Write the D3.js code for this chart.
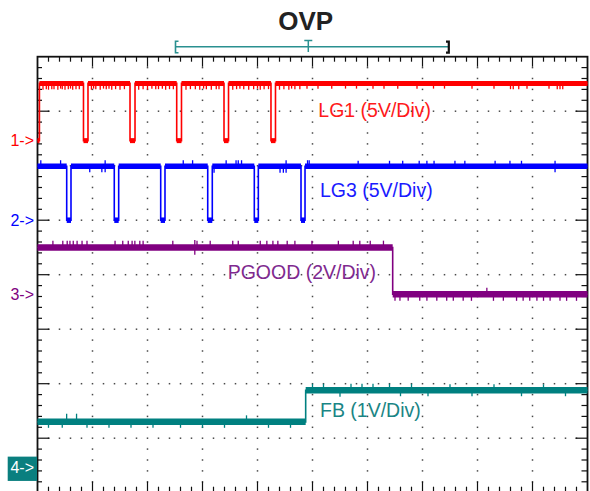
<!DOCTYPE html>
<html>
<head>
<meta charset="utf-8">
<script src="https://cdn.jsdelivr.net/npm/d3@7/dist/d3.min.js"></script>
<style>
  html, body { margin: 0; padding: 0; background: #fff; }
  svg { display: block; }
</style>
</head>
<body>
<svg id="chart" width="590" height="491"></svg>
<script>
// ---- Scope capture data (time in divisions, voltages in volts) ----
const title = "OVP";
const channelNames = ["LG1", "LG3", "PGOOD", "FB"];
const channelLabels = ["LG1 (5V/Div)", "LG3 (5V/Div)", "PGOOD (2V/Div)", "FB (1V/Div)"];
const channelMarkers = ["1->", "2->", "3->", "4->"];
const voltsPerDiv = [5, 5, 2, 1];
const groundDiv = [6.46, 5.0, 3.64, 0.46];   // ground reference, divisions from bottom

// LG1 gate: starts low, rises, then short low pulses
const lg1High = 5.25;
const lg1Start = 0.035;
const lg1Fall = [0.836, 1.682, 2.531, 3.391, 4.245];
const lg1Rise = [0.918, 1.773, 2.618, 3.473, 4.327];

// LG3 gate: high with interleaved low pulses
const lg3High = 4.95;
const lg3Fall = [0.531, 1.396, 2.240, 3.095, 3.942, 4.791];
const lg3Rise = [0.609, 1.476, 2.318, 3.178, 4.015, 4.864];

// PGOOD drops once OVP is flagged
const pgoodHigh = 1.72;
const pgoodLow = 0.0;
const pgoodFall = 6.458;

// FB steps up past the OVP threshold
const fbLow = 0.84;
const fbHigh = 1.42;
const fbRise = 4.876;

// Switching glitches on each trace: [time (div), offset (V)]
const lg1Glitch = [[0.1,-0.35],[0.16,-0.3],[0.2,-0.35],[0.26,-0.3],[0.3,-0.3],[0.37,-0.35],[0.42,-0.25],[0.45,-0.3],[0.5,-0.35],[0.56,-0.3],[0.6,-0.25],[0.64,-0.35],[0.7,-0.3],[0.76,-0.3],
  [0.98,-0.35],[1.02,-0.25],[1.06,-0.3],[1.14,-0.35],[1.2,-0.25],[1.25,-0.3],[1.3,-0.25],[1.35,-0.35],[1.42,-0.3],[1.5,-0.35],[1.58,-0.3],
  [1.84,-0.35],[1.92,-0.3],[2.0,-0.35],[2.08,-0.25],[2.15,-0.3],[2.2,-0.3],[2.27,-0.25],[2.33,-0.35],[2.4,-0.3],[2.47,-0.3],
  [2.7,-0.35],[2.78,-0.3],[2.87,-0.3],[2.95,-0.35],[3.02,-0.25],[3.07,-0.3],[3.16,-0.35],[3.25,-0.3],[3.3,-0.3],
  [3.55,-0.35],[3.62,-0.3],[3.68,-0.25],[3.75,-0.3],[3.84,-0.35],[3.93,-0.3],[4.0,-0.25],[4.05,-0.35],[4.12,-0.3],[4.2,-0.3],
  [4.4,-0.35],[4.48,-0.3],[4.57,-0.35],[4.62,-0.25],[4.68,-0.3],[4.77,-0.3],[4.9,-0.25],[5.1,-0.25],[5.35,-0.25],
  [5.6,-0.25],[5.8,-0.25],[6.1,-0.25],[6.3,-0.25],[6.55,-0.25],[6.9,-0.25],[7.2,-0.25],[7.4,-0.25],
  [7.9,-0.25],[8.3,-0.25],[8.6,-0.3],[8.65,-0.3],[8.75,-0.3],[8.9,-0.25],[9.3,-0.25],[9.45,-0.3],[9.5,-0.3],[9.55,-0.3]];
const lg3Glitch = [[0.06,0.3],[0.42,0.3],[0.95,-0.3],[1.17,-0.3],[1.23,-0.3],[1.23,0.3],[2.65,0.3],[2.82,0.3],
  [3.21,-0.35],[3.43,0.3],[3.61,0.3],[3.65,0.3],[3.71,0.3],[4.41,-0.35],[4.47,-0.35],[4.52,-0.35],[4.52,0.3],
  [4.91,0.3],[4.94,0.3],[5.83,0.25],[6.4,0.25],[6.64,0.25],[6.94,0.25],[7.08,0.25],[7.21,0.25],[7.59,0.25],
  [7.77,0.25],[8.32,0.25],[8.59,0.25],[8.8,0.25],[9.41,-0.3],[9.41,0.25]];
const pgoodGlitch = [[0.28,0.13],[0.46,0.13],[0.54,0.13],[0.59,0.13],[0.65,0.13],[0.72,0.13],[0.81,0.13],[0.9,0.13],
  [1.41,0.13],[1.55,0.13],[1.65,0.13],[1.72,0.13],[1.77,0.13],[1.86,0.13],[1.92,0.13],[2.46,0.13],[2.86,0.15],
  [2.86,-0.15],[2.9,0.13],[3.14,0.13],[3.55,0.13],[3.65,0.13],[4.05,0.13],[4.17,0.13],[4.28,0.13],[4.37,0.13],
  [4.54,0.13],[4.68,0.13],[4.99,0.13],[5.47,0.13],[5.74,0.13],[5.86,0.13],[6.05,0.13],[6.29,0.13],
  [6.5,-0.12],[6.59,-0.12],[6.74,-0.12],[6.95,-0.12],[7.08,-0.12],[7.26,-0.12],[7.44,-0.12],[7.56,-0.12],
  [7.74,-0.12],[7.89,-0.12],[8.17,0.12],[8.29,-0.12],[8.47,-0.12],[8.71,-0.12],[8.83,-0.12],[8.95,-0.12],
  [9.08,-0.12],[9.2,-0.12],[9.32,-0.12],[9.5,-0.12],[9.62,-0.12],[9.8,-0.12]];
const fbGlitch = [[0.53,0.09],[0.71,0.09],[0.2,-0.05],[0.45,-0.05],[0.9,-0.05],[1.3,-0.05],[1.7,-0.05],[2.1,-0.05],
  [2.6,-0.05],[3.0,-0.05],[3.4,-0.05],[3.8,0.06],[4.2,-0.05],[4.6,-0.05],
  [5.0,0.06],[5.2,0.06],[5.5,-0.06],[5.7,0.06],[5.9,0.06],[6.1,0.06],[6.4,0.06],[6.6,-0.05],[6.8,0.06],
  [7.1,-0.05],[7.5,0.05],[7.9,-0.05],[8.3,0.05],[8.8,-0.05],[9.2,0.05],[9.6,-0.05]];

// ---- Layout ----
const svg = d3.select("#chart");
const x = d3.scaleLinear().domain([0, 10]).range([37.5, 587.5]);
const y = d3.scaleLinear().domain([0, 8]).range([492.7, 56.7]);
const colors = ["#ff0000", "#0000ff", "#800080", "#008080"];
const labelColors = ["#ff1a1a", "#1a1aff", "#7f2a8f", "#1a8585"];
const bandWidth = [5, 5.5, 6.5, 6.5];
const font = "'Liberation Sans', Arial, sans-serif";

const chY = (c, v) => y(groundDiv[c] + v / voltsPerDiv[c]);

// ---- Graticule dots ----
const grid = svg.append("g").attr("fill", "#4a4a4a");
const dots = [];
for (let j = 1; j < 8; j++) for (let i = 1; i < 50; i++) dots.push([i * 0.2, j]);
for (let i = 1; i < 10; i++) for (let k = 1; k < 40; k++) if (k % 5) dots.push([i, k * 0.2]);
grid.selectAll("rect").data(dots).join("rect")
  .attr("x", d => x(d[0]) - 0.75).attr("y", d => y(d[1]) - 0.75)
  .attr("width", 1.5).attr("height", 1.5);

// ---- Frame and ticks ----
const frame = svg.append("g").attr("stroke", "#111").attr("fill", "none");
frame.append("rect").attr("x", x(0)).attr("y", y(8)).attr("width", x(10) - x(0)).attr("height", y(0) - y(8))
  .attr("stroke-width", 1.8);
const xt = d3.range(1, 50).map(i => i * 0.2);
const yt = d3.range(1, 40).map(i => i * 0.2);
const isMajor = v => Math.abs(v - Math.round(v)) < 1e-6;
frame.selectAll(".tt").data(xt).join("line").attr("class", "tt")
  .attr("x1", d => x(d)).attr("x2", d => x(d)).attr("y1", y(8)).attr("y2", d => y(8) + (isMajor(d) ? 10 : 5)).attr("stroke-width", 1.2);
frame.selectAll(".tb").data(xt).join("line").attr("class", "tb")
  .attr("x1", d => x(d)).attr("x2", d => x(d)).attr("y1", y(0)).attr("y2", d => y(0) - (isMajor(d) ? 11 : 6)).attr("stroke-width", 1.2);
frame.selectAll(".tl").data(yt).join("line").attr("class", "tl")
  .attr("y1", d => y(d)).attr("y2", d => y(d)).attr("x1", x(0)).attr("x2", d => x(0) + (isMajor(d) ? 12 : 4.5)).attr("stroke-width", 1.2);
frame.selectAll(".tr").data(yt).join("line").attr("class", "tr")
  .attr("y1", d => y(d)).attr("y2", d => y(d)).attr("x1", x(10)).attr("x2", d => x(10) - (isMajor(d) ? 12 : 6)).attr("stroke-width", 1.2);

// ---- Waveforms built from edge times ----
function pulses(high, low, falls, rises, start) {
  const pts = [];
  if (start != null) { pts.push([0, low], [start, low], [start, high]); } else { pts.push([0, high]); }
  falls.forEach((f, i) => { pts.push([f, high], [f, low], [rises[i], low], [rises[i], high]); });
  pts.push([10, high]);
  return pts;
}
const waves = [
  pulses(lg1High, 0, lg1Fall, lg1Rise, lg1Start),
  pulses(lg3High, 0, lg3Fall, lg3Rise, null),
  [[0, pgoodHigh], [pgoodFall, pgoodHigh], [pgoodFall, pgoodLow], [10, pgoodLow]],
  [[0, fbLow], [fbRise, fbLow], [fbRise, fbHigh], [10, fbHigh]]
];
const glitches = [lg1Glitch, lg3Glitch, pgoodGlitch, fbGlitch];

waves.forEach((pts, c) => {
  const g = svg.append("g").attr("class", "trace-" + channelNames[c]);
  const line = d3.line().x(d => x(d[0])).y(d => chY(c, d[1]));
  // thin trace through every edge
  g.append("path").datum(pts).attr("d", line)
    .attr("fill", "none").attr("stroke", colors[c]).attr("stroke-width", 1.6).attr("stroke-linejoin", "miter");
  // thick band on each flat segment (sample jitter)
  const flats = [];
  for (let i = 0; i < pts.length - 1; i++) {
    if (pts[i][1] === pts[i + 1][1] && pts[i + 1][0] > pts[i][0]) flats.push([pts[i], pts[i + 1]]);
  }
  g.selectAll(".band").data(flats).join("line").attr("class", "band")
    .attr("x1", d => x(d[0][0])).attr("x2", d => x(d[1][0]))
    .attr("y1", d => chY(c, d[0][1])).attr("y2", d => chY(c, d[0][1]))
    .attr("stroke", colors[c]).attr("stroke-width", bandWidth[c]);
  // glitch spikes relative to the level present at that instant
  const levelAt = t => { let v = pts[0][1]; for (const p of pts) { if (p[0] <= t) v = p[1]; } return v; };
  g.selectAll(".glitch").data(glitches[c]).join("line").attr("class", "glitch")
    .attr("x1", d => x(d[0])).attr("x2", d => x(d[0]))
    .attr("y1", d => chY(c, levelAt(d[0])))
    .attr("y2", d => chY(c, levelAt(d[0]) + d[1]) + (d[1] < 0 ? bandWidth[c] / 2 : -bandWidth[c] / 2))
    .attr("stroke", colors[c]).attr("stroke-width", 1.3);
});

// ---- Channel labels ----
const labelPos = [[318.3, 116.5], [320, 196.8], [227.7, 279], [320, 417.3]];
svg.selectAll(".chlabel").data(channelLabels).join("text").attr("class", "chlabel")
  .attr("x", (d, i) => labelPos[i][0]).attr("y", (d, i) => labelPos[i][1])
  .attr("fill", (d, i) => labelColors[i])
  .style("font-family", font).style("font-size", "19.5px")
  .text(d => d);

// ---- Ground markers ----
svg.append("rect").attr("x", 7.7).attr("y", chY(3, 0) - 11).attr("width", 29.3).attr("height", 24.3).attr("fill", "#0a7f7f");
svg.selectAll(".marker").data(channelMarkers).join("text").attr("class", "marker")
  .attr("x", 34).attr("y", (d, i) => chY(i, 0) + 5.8)
  .attr("text-anchor", "end")
  .attr("fill", (d, i) => i === 3 ? "#ffffff" : colors[i])
  .style("font-family", font).style("font-size", "16px")
  .text(d => d);

// ---- Title ----
svg.append("text").attr("x", 305.7).attr("y", 30).attr("text-anchor", "middle")
  .attr("fill", "#222").style("font-family", font).style("font-size", "26px").style("font-weight", "bold")
  .text(title);

// ---- Horizontal cursor bar ----
const cur = svg.append("g").attr("fill", "none");
const cy = 46.7;
cur.append("line").attr("x1", 175.5).attr("x2", 448).attr("y1", cy).attr("y2", cy).attr("stroke", "#2a9090").attr("stroke-width", 1.6);
cur.append("path").attr("d", `M178.5,41.3 H175.5 V52.8 H178.5`).attr("stroke", "#2a9090").attr("stroke-width", 1.6);
cur.append("path").attr("d", `M446,41.7 H448.8 V52.7 H446`).attr("stroke", "#111").attr("stroke-width", 2.2);
cur.append("path").attr("d", `M304.3,40.5 H312.3 M308.3,40.5 V52`).attr("stroke", "#2a9090").attr("stroke-width", 1.5);
</script>
</body>
</html>
